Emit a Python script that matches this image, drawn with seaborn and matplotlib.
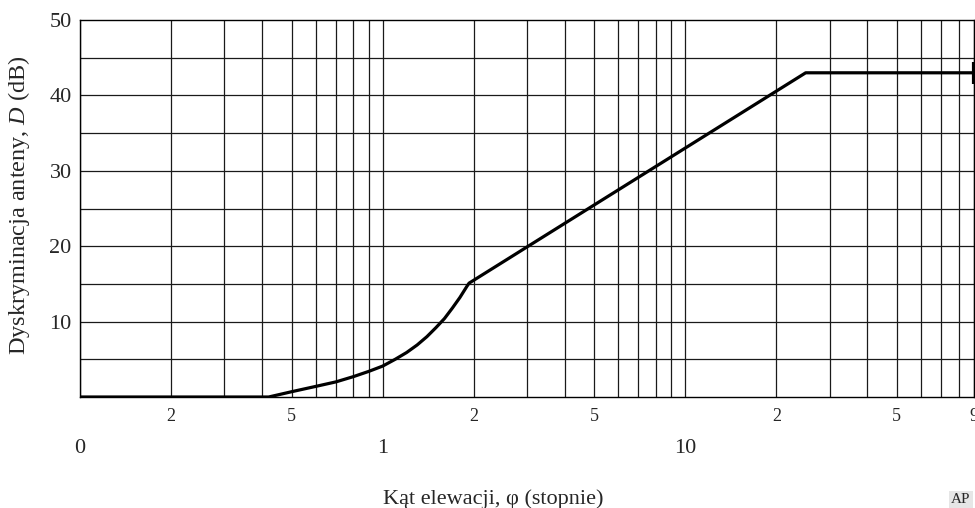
import numpy as np
import pandas as pd
import seaborn as sns
import matplotlib.pyplot as plt

# Kąt elewacji (stopnie) i dyskryminacja anteny (dB)
kat = [0.1, 0.42, 0.5, 0.6, 0.7, 0.8, 0.9, 1.0, 1.1, 1.2, 1.3, 1.4, 1.5,
       1.6, 1.7, 1.8, 1.9, 1.93, 25.0, 90.0]
dysk = [0.0, 0.0, 0.7, 1.4, 2.0, 2.7, 3.4, 4.1, 5.0, 5.9, 6.9, 8.0, 9.2,
        10.4, 11.8, 13.2, 14.7, 15.1, 43.0, 43.0]

# Etykiety osi x (dwa rzędy)
ticks_gorne = [0.2, 0.5, 2, 5, 20, 50, 90]
etyk_gorne = ['2', '5', '2', '5', '2', '5', '9']
ticks_dolne = [0.1, 1, 10]
etyk_dolne = ['0', '1', '10']
ticks_y = [10, 20, 30, 40, 50]

df = pd.DataFrame({'kat': kat, 'dysk': dysk})

sns.set_style('white')
plt.rcParams['font.family'] = ['Liberation Serif', 'DejaVu Serif']
plt.rcParams['mathtext.fontset'] = 'custom'
plt.rcParams['mathtext.it'] = 'Liberation Serif:italic'
plt.rcParams['mathtext.rm'] = 'Liberation Serif'

fig = plt.figure(figsize=(9.75, 5.08), dpi=100)
ax = fig.add_axes([0.0821, 0.2185, 0.9169, 0.7421])
ax.set_xscale('log')
ax.set_xlim(0.1, 90)
ax.set_ylim(0, 50)

# Siatka
for e in (0.1, 1, 10):
    for k in range(1, 10):
        v = k * e
        if v <= 90:
            ax.axvline(v, color='#1a1a1a', lw=0.9, zorder=1)
for h in range(5, 50, 5):
    ax.axhline(h, color='#1a1a1a', lw=0.9, zorder=1)

sns.lineplot(data=df, x='kat', y='dysk', color='black', lw=2.3, ax=ax,
             zorder=3, estimator=None, sort=False)
ax.plot(kat[-1], dysk[-1], marker='|', markersize=16.5, mew=3,
        color='black', zorder=4)

for s in ax.spines.values():
    s.set_color('black')
    s.set_linewidth(1.0)

ax.set_yticks(ticks_y)
ax.set_yticklabels([str(t) for t in ticks_y], fontsize=16)
ax.tick_params(axis='y', length=0, pad=6)

ax.set_xticks(ticks_dolne)
ax.set_xticklabels(etyk_dolne, fontsize=16)
ax.set_xticks(ticks_gorne, minor=True)
ax.set_xticklabels(etyk_gorne, minor=True, fontsize=13)
ax.tick_params(axis='x', which='major', length=0, pad=30)
ax.tick_params(axis='x', which='minor', length=0, pad=8)

ax.set_xlabel('Kąt elewacji, φ (stopnie)', fontsize=16, va='baseline')
ax.xaxis.set_label_coords(0.462, -0.284)
ax.set_ylabel('Dyskryminacja anteny, $D$ (dB)', fontsize=17.5)
ax.yaxis.set_label_coords(-0.054, 0.51)

fig.text(0.9755, 0.004, 'AP', fontsize=11, ha='left', va='bottom',
         bbox=dict(facecolor='#e6e6e6', edgecolor='none', pad=1.5))

plt.savefig('out.png', dpi=100)
